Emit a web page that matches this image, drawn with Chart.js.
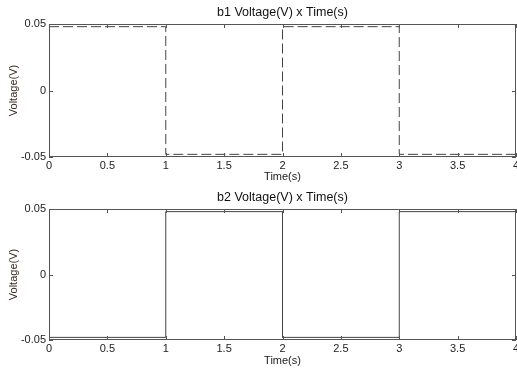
<!DOCTYPE html>
<html>
<head>
<meta charset="utf-8">
<script src="https://cdn.jsdelivr.net/npm/chart.js@4.4.1/dist/chart.umd.min.js"></script>
<style>
  html, body { margin: 0; padding: 0; background: #fff; }
  .panel { position: relative; width: 517px; }
</style>
</head>
<body>
<div class="panel" style="height:185px"><canvas id="b1"></canvas></div>
<div class="panel" style="height:184px"><canvas id="b2"></canvas></div>
<script>
const times = [0, 1, 1, 2, 2, 3, 3, 4, 4]
const b1Volts = [0.048, 0.048, -0.048, -0.048, 0.048, 0.048, -0.048, -0.048, 0.023]
const b2Volts = [-0.048, -0.048, 0.048, 0.048, -0.048, -0.048, 0.048, 0.048, -0.025]
const xTicks = [0, 0.5, 1, 1.5, 2, 2.5, 3, 3.5, 4]
const yTicks = [-0.05, 0, 0.05]

const font = { family: "'Liberation Sans', Arial, sans-serif", size: 11 }

// matlab style box with inward ticks
const frame = {
  id: "frame",
  afterDatasetsDraw(chart) {
    const { ctx, chartArea: a, scales: { x, y } } = chart
    ctx.save()
    ctx.strokeStyle = "#555"
    ctx.lineWidth = 1
    ctx.strokeRect(Math.round(a.left) + 0.5, Math.round(a.top) + 0.5,
      Math.round(a.right - a.left) - 1, Math.round(a.bottom - a.top) - 1)
    ctx.beginPath()
    x.ticks.forEach(t => {
      const px = Math.round(x.getPixelForValue(t.value)) + 0.5
      ctx.moveTo(px, a.bottom); ctx.lineTo(px, a.bottom - 4)
      ctx.moveTo(px, a.top); ctx.lineTo(px, a.top + 4)
    })
    y.ticks.forEach(t => {
      const py = Math.round(y.getPixelForValue(t.value)) + 0.5
      ctx.moveTo(a.left, py); ctx.lineTo(a.left + 4, py)
      ctx.moveTo(a.right, py); ctx.lineTo(a.right - 4, py)
    })
    ctx.stroke()
    ctx.restore()
  }
}

function makeChart(id, title, values, dash, xHeight) {
  return new Chart(document.getElementById(id), {
    type: "line",
    data: {
      datasets: [{
        data: times.map((t, i) => ({ x: t, y: values[i] })),
        borderColor: "#444",
        borderWidth: 1,
        borderDash: dash,
        pointRadius: 0,
        tension: 0
      }]
    },
    options: {
      responsive: true,
      maintainAspectRatio: false,
      animation: false,
      devicePixelRatio: 1,
      layout: { padding: { right: 1, top: 0, bottom: 0, left: 0 } },
      plugins: {
        legend: { display: false },
        tooltip: { enabled: false },
        title: {
          display: true, text: title, color: "#111", fullSize: false,
          font: { ...font, size: 12.5, weight: "normal", lineHeight: 1.2 }, padding: { top: 5, bottom: 4 }
        }
      },
      scales: {
        x: {
          type: "linear", min: 0, max: 4,
          afterBuildTicks: s => { s.ticks = xTicks.map(v => ({ value: v })) },
          ticks: { autoSkip: false, maxRotation: 0, padding: 2, color: "#222", font,
            callback: v => String(v) },
          grid: { display: false, drawTicks: false },
          border: { display: false },
          title: { display: true, text: "Time(s)", color: "#222", font, padding: { top: 0, bottom: 1 } },
          afterFit: s => { s.height = xHeight; s.paddingLeft = 0; s.paddingRight = 0 }
        },
        y: {
          min: -0.05, max: 0.05,
          afterBuildTicks: s => { s.ticks = yTicks.map(v => ({ value: v })) },
          ticks: { padding: 3, color: "#222", font, callback: v => String(+v.toFixed(2)) },
          grid: { display: false, drawTicks: false },
          border: { display: false },
          title: { display: true, text: "Voltage(V)", color: "#3a2a22", font, padding: { top: 7, bottom: 0 } },
          afterFit: s => { s.width = 49; s.paddingTop = 0; s.paddingBottom = 0 }
        }
      }
    },
    plugins: [frame]
  })
}

makeChart("b1", "b1 Voltage(V) x Time(s)", b1Volts, [10, 4], 28)
makeChart("b2", "b2 Voltage(V) x Time(s)", b2Volts, [], 29)
</script>
</body>
</html>
